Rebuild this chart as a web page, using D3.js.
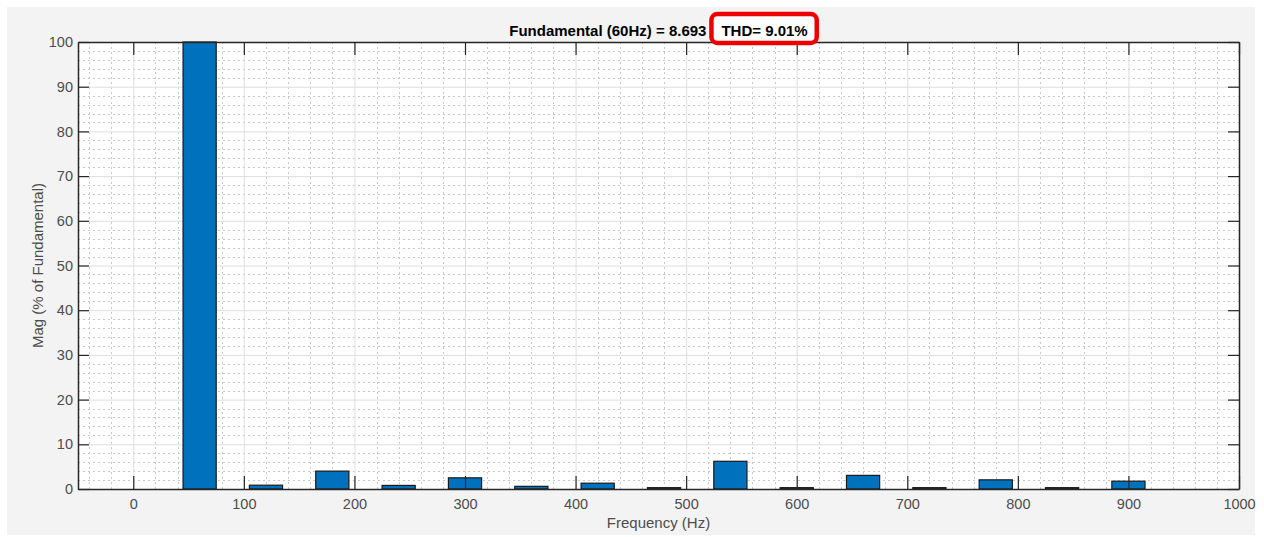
<!DOCTYPE html>
<html>
<head>
<meta charset="utf-8">
<script src="https://cdn.jsdelivr.net/npm/d3@7"></script>
<style>
  html, body { margin: 0; padding: 0; background: #fff; }
  svg { display: block; font-family: "Liberation Sans", Arial, sans-serif; }
</style>
</head>
<body>
<div class="chart"></div>
<script>
// harmonic spectrum
const freqs = [0, 60, 120, 180, 240, 300, 360, 420, 480, 540, 600, 660, 720, 780, 840, 900];
const mags = [0, 100, 0.85, 4.0, 0.8, 2.5, 0.6, 1.3, 0.3, 6.2, 0.3, 3.05, 0.3, 2.05, 0.3, 1.75];
const xTicks = [0, 100, 200, 300, 400, 500, 600, 700, 800, 900, 1000];
const yTicks = [0, 10, 20, 30, 40, 50, 60, 70, 80, 90, 100];
const titleText = 'Fundamental (60Hz) = 8.693';
const thdText = 'THD= 9.01%';

const w = 1264;
const h = 537;
const padding = { top: 42, right: 25, bottom: 48, left: 78 };
const barHz = 30;

const svg = d3.select('.chart')
  .append('svg')
  .attr('width', w)
  .attr('height', h);

// figure background
svg.append('rect')
  .attr('x', 7).attr('y', 7)
  .attr('width', w - 16).attr('height', h - 9)
  .attr('fill', '#f3f3f3');

const xScale = d3.scaleLinear()
  .domain([-50, 1000])
  .range([padding.left, w - padding.right]);
const yScale = d3.scaleLinear()
  .domain([0, 100])
  .range([h - padding.bottom, padding.top]);

const pw = xScale.range()[1] - xScale.range()[0];
const ph = yScale.range()[0] - yScale.range()[1];

svg.append('rect')
  .attr('x', padding.left).attr('y', padding.top)
  .attr('width', pw).attr('height', ph)
  .attr('fill', '#fff');

// minor grid
const xMinor = d3.range(-40, 1001, 20).filter((d) => d % 100 !== 0);
const yMinor = d3.range(2, 100, 2).filter((d) => d % 10 !== 0);

svg.append('g')
  .attr('class', 'minor-grid')
  .selectAll('line.vx')
  .data(xMinor)
  .enter()
  .append('line')
  .attr('x1', (d) => Math.round(xScale(d)) + 0.5)
  .attr('x2', (d) => Math.round(xScale(d)) + 0.5)
  .attr('y1', padding.top)
  .attr('y2', padding.top + ph)
  .attr('stroke', '#c8c8c8')
  .attr('stroke-dasharray', '2,3');

svg.select('.minor-grid')
  .selectAll('line.hy')
  .data(yMinor)
  .enter()
  .append('line')
  .attr('x1', padding.left)
  .attr('x2', padding.left + pw)
  .attr('y1', (d) => Math.round(yScale(d)) + 0.5)
  .attr('y2', (d) => Math.round(yScale(d)) + 0.5)
  .attr('stroke', '#c8c8c8')
  .attr('stroke-dasharray', '2,3');

// major grid
svg.append('g')
  .attr('class', 'x-grid')
  .attr('transform', `translate(0, ${padding.top + ph})`)
  .call(d3.axisBottom(xScale).tickValues(xTicks).tickSize(-ph).tickFormat(''))
  .call((g) => g.select('.domain').remove())
  .call((g) => g.selectAll('line').attr('stroke', '#dedede'));

svg.append('g')
  .attr('class', 'y-grid')
  .attr('transform', `translate(${padding.left}, 0)`)
  .call(d3.axisLeft(yScale).tickValues(yTicks).tickSize(-pw).tickFormat(''))
  .call((g) => g.select('.domain').remove())
  .call((g) => g.selectAll('line').attr('stroke', '#dedede'));

// bars
const bw = xScale(barHz) - xScale(0);
svg.selectAll('rect.bar')
  .data(freqs)
  .enter()
  .append('rect')
  .attr('class', 'bar')
  .attr('x', (d) => xScale(d) - bw / 2)
  .attr('y', (d, i) => yScale(mags[i]))
  .attr('width', bw)
  .attr('height', (d, i) => yScale(0) - yScale(mags[i]))
  .attr('fill', '#0072bd')
  .attr('stroke', '#1a1a1a')
  .attr('stroke-width', 1.2);

// axes, ticks inside like matlab
const axisColor = '#262626';
const labelColor = '#4d4d4d';

function styleAxis(g) {
  g.select('.domain').attr('stroke', axisColor).attr('stroke-width', 1.5);
  g.selectAll('.tick line').attr('stroke', axisColor).attr('stroke-width', 1.2);
  g.selectAll('.tick text')
    .attr('fill', labelColor)
    .style('font-size', '14.5px')
    .style('font-family', '"Liberation Sans", Arial, sans-serif');
}

svg.append('g')
  .attr('class', 'x-axis')
  .attr('transform', `translate(0, ${padding.top + ph})`)
  .call(d3.axisBottom(xScale).tickValues(xTicks).tickFormat(d3.format('d'))
    .tickSizeInner(-13).tickSizeOuter(0).tickPadding(10))
  .call(styleAxis);

svg.append('g')
  .attr('class', 'x-axis-top')
  .attr('transform', `translate(0, ${padding.top})`)
  .call(d3.axisTop(xScale).tickValues(xTicks).tickSizeInner(-13).tickSizeOuter(0).tickFormat(''))
  .call(styleAxis);

svg.append('g')
  .attr('class', 'y-axis')
  .attr('transform', `translate(${padding.left}, 0)`)
  .call(d3.axisLeft(yScale).tickValues(yTicks).tickSizeInner(-11).tickSizeOuter(0).tickPadding(5))
  .call(styleAxis);

svg.append('g')
  .attr('class', 'y-axis-right')
  .attr('transform', `translate(${padding.left + pw}, 0)`)
  .call(d3.axisRight(yScale).tickValues(yTicks).tickSizeInner(-11).tickSizeOuter(0).tickFormat(''))
  .call(styleAxis);

// labels
svg.append('text')
  .attr('x', padding.left + pw / 2)
  .attr('y', 528)
  .attr('text-anchor', 'middle')
  .attr('fill', labelColor)
  .style('font-size', '15px')
  .text('Frequency (Hz)');

svg.append('text')
  .attr('transform', `translate(43, ${padding.top + ph / 2}) rotate(-90)`)
  .attr('text-anchor', 'middle')
  .attr('fill', labelColor)
  .style('font-size', '15px')
  .text('Mag (% of Fundamental)');

// title + red THD box
const title = svg.append('g').attr('class', 'title');
const t1 = title.append('text')
  .attr('y', 36)
  .attr('fill', '#000')
  .style('font-size', '15px')
  .style('font-weight', 'bold')
  .text(titleText);
const gap = 15;
const t1w = t1.node().getComputedTextLength();
const box = title.append('rect');
const t2 = title.append('text')
  .attr('y', 36)
  .attr('fill', '#000')
  .style('font-size', '15px')
  .style('font-weight', 'bold')
  .text(thdText);
const t2w = t2.node().getComputedTextLength();
const startX = padding.left + pw / 2 - (t1w + gap + t2w) / 2;
t1.attr('x', startX);
t2.attr('x', startX + t1w + gap);
box
  .attr('x', startX + t1w + gap - 10)
  .attr('y', 14)
  .attr('width', t2w + 19)
  .attr('height', 29)
  .attr('rx', 6)
  .attr('fill', '#fff')
  .attr('stroke', '#ee0000')
  .attr('stroke-width', 4.5);
</script>
</body>
</html>
